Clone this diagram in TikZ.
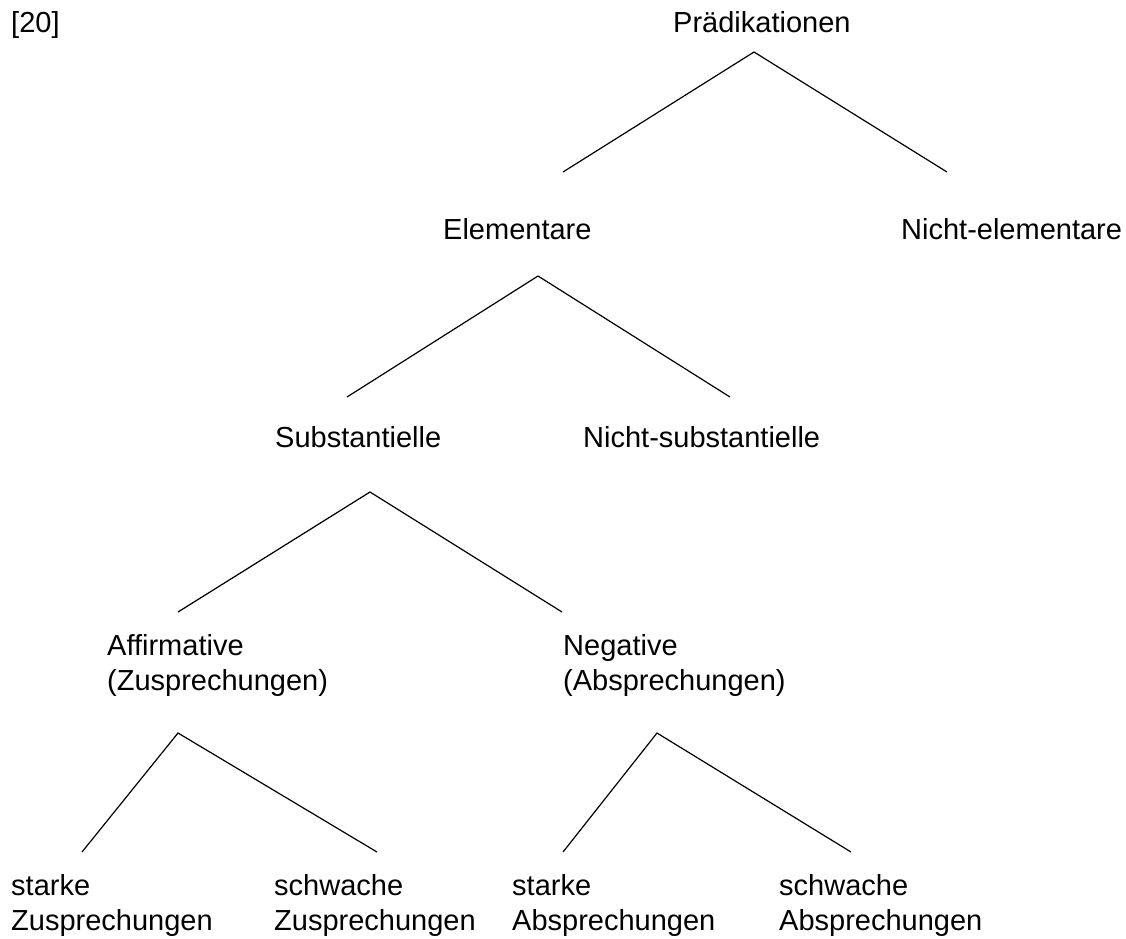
\documentclass[tikz,border=0pt]{standalone}
\usepackage{fontspec}
\setmainfont{Liberation Sans}
\begin{document}
\begin{tikzpicture}[x=1pt,y=-1pt,
  lbl/.style={anchor=base west,inner sep=0pt,font=\fontsize{29}{35}\selectfont},
  branch/.style={draw=black,line width=1.2pt}]
\newcommand{\twoline}[2]{\vtop{\hbox{#1}\hbox{#2}}}
\useasboundingbox (0,0) rectangle (1126,938);

% labels
\node[lbl] (num)  at (11,32)   {[20]};
\node[lbl] (prad) at (673,32)  {Prädikationen};
\node[lbl] (elem) at (443,239) {Elementare};
\node[lbl] (nelem) at (901,239) {Nicht-elementare};
\node[lbl] (subst) at (275,447) {Substantielle};
\node[lbl] (nsubst) at (583,447) {Nicht-substantielle};
\node[lbl] (aff) at (107,655) {\twoline{Affirmative}{(Zusprechungen)}};
\node[lbl] (neg) at (563,655) {\twoline{Negative}{(Absprechungen)}};
\node[lbl] (sz) at (11,895)  {\twoline{starke}{Zusprechungen}};
\node[lbl] (wz) at (274,895) {\twoline{schwache}{Zusprechungen}};
\node[lbl] (sa) at (512,895) {\twoline{starke}{Absprechungen}};
\node[lbl] (wa) at (779,895) {\twoline{schwache}{Absprechungen}};

% branch points
\coordinate (prad-top) at (754,52);
\coordinate (elem-end) at (563,172);
\coordinate (nelem-end) at (947,172);
\coordinate (elem-top) at (538,276);
\coordinate (subst-end) at (347,397);
\coordinate (nsubst-end) at (730,397);
\coordinate (subst-top) at (370,492);
\coordinate (aff-end) at (178,612);
\coordinate (neg-end) at (562,612);
\coordinate (aff-top) at (178,733);
\coordinate (sz-end) at (82,852);
\coordinate (wz-end) at (377,852);
\coordinate (neg-top) at (657,733);
\coordinate (sa-end) at (563,852);
\coordinate (wa-end) at (851,852);

% branches
\draw[branch] (elem-end) -- (prad-top) -- (nelem-end);
\draw[branch] (subst-end) -- (elem-top) -- (nsubst-end);
\draw[branch] (aff-end) -- (subst-top) -- (neg-end);
\draw[branch] (sz-end) -- (aff-top) -- (wz-end);
\draw[branch] (sa-end) -- (neg-top) -- (wa-end);
\end{tikzpicture}
\end{document}
